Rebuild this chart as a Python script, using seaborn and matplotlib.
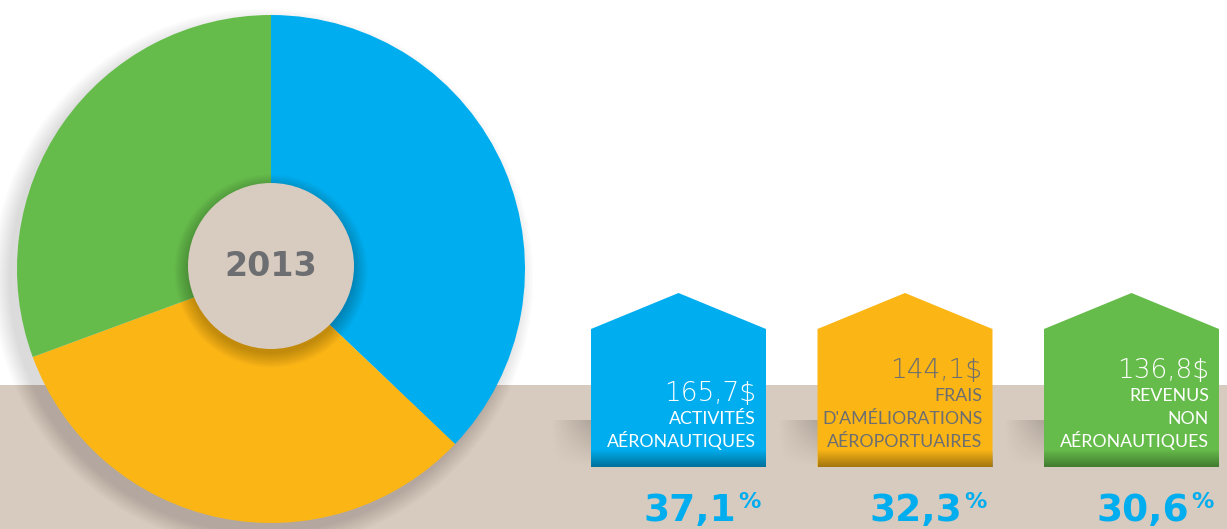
import numpy as np
import matplotlib.pyplot as plt
import seaborn as sns
from matplotlib.patches import Polygon, Rectangle, Circle

# Data
year = "2013"
amounts = [165.7, 144.1, 136.8]
amount_labels = ["165,7$", "144,1$", "136,8$"]
categories = [
    ["ACTIVITÉS", "AÉRONAUTIQUES"],
    ["FRAIS", "D'AMÉLIORATIONS", "AÉROPORTUAIRES"],
    ["REVENUS", "NON", "AÉRONAUTIQUES"],
]
percents = ["37,1", "32,3", "30,6"]
colors = ["#00AEEF", "#FBB616", "#66BC4B"]
text_colors = ["white", "#6D6E71", "white"]

sns.set_theme(style="white")
palette = sns.color_palette(colors)

W, H = 1227, 529
fig = plt.figure(figsize=(12.27, 5.29), dpi=100)
ax = fig.add_axes([0, 0, 1, 1])


def py(y):
    # pixel row (from top) -> data y
    return H - y


# beige floor band
ax.add_patch(Rectangle((0, 0), W, py(385), color="#D7CABE", lw=0, zorder=0))

# soft shadow behind the pie, mostly toward the lower left
cx, cy, r = 271, py(269), 254
for i in range(12):
    ax.add_patch(Circle((cx - 8, cy - 10), r + i * 1.5, color="black",
                        alpha=0.012, lw=0, zorder=1))

# pie
ax.pie(amounts, colors=palette, startangle=90, counterclock=False,
       center=(cx, cy), radius=r, frame=True,
       wedgeprops=dict(linewidth=0, zorder=2))

# centre disc with shadow
for i in range(10):
    ax.add_patch(Circle((271, py(266) - 5), 83 + i * 1.5, color="black",
                        alpha=0.025, lw=0, zorder=3))
ax.add_patch(Circle((271, py(266)), 83, color="#D8CBBF", lw=0, zorder=4))
ax.text(271, py(267), year, ha="center", va="center", fontsize=24,
        fontweight="bold", color="#6D6E71", zorder=5)

# house shaped label boxes
w = 175
for i, (amt, lines, pct, col, tc) in enumerate(
        zip(amount_labels, categories, percents, colors, text_colors)):
    x0 = 591 + i * 226.5
    # shadow on the floor left of the house
    grad = np.zeros((20, 40, 4))
    grad[..., 3] = (np.linspace(0, 0.18, 40)[None, :]
                    * np.linspace(0, 1, 20)[:, None])
    ax.imshow(grad, extent=(x0 - 40, x0, py(467), py(420)),
              origin="lower", zorder=1, aspect="auto")
    pts = [(x0, py(467)), (x0, py(329)), (x0 + w / 2, py(293)),
           (x0 + w, py(329)), (x0 + w, py(467))]
    ax.add_patch(Polygon(pts, closed=True, color=col, lw=0, zorder=2))
    # darker base of the house
    base = np.zeros((20, 2, 4))
    base[..., 3] = np.linspace(0.35, 0, 20)[:, None]
    ax.imshow(base, extent=(x0, x0 + w, py(467), py(449)),
              origin="lower", zorder=3, aspect="auto")

    xr = x0 + w - 10
    n = len(lines)
    for k, line in enumerate(lines):
        ax.text(xr, py(447 - 23 * (n - 1 - k)), line, ha="right",
                va="baseline", fontsize=12.8, family="Lato", color=tc,
                zorder=5)
    ax.text(xr, py(447 - 23 * n), amt, ha="right", va="baseline",
            fontsize=19, family="DejaVu Sans", fontweight="light",
            color=tc, zorder=5)

    # percentage below
    ax.text(x0 + w - 30, py(521), pct, ha="right", va="baseline",
            fontsize=27, fontweight="bold", color=colors[0], zorder=5)
    ax.text(x0 + w - 28, py(492), "%", ha="left", va="top",
            fontsize=16, fontweight="bold", color=colors[0], zorder=5)

ax.set_xlim(0, W)
ax.set_ylim(0, H)
ax.set_aspect("equal")
ax.axis("off")

fig.savefig("out.png", dpi=100, facecolor="white")
